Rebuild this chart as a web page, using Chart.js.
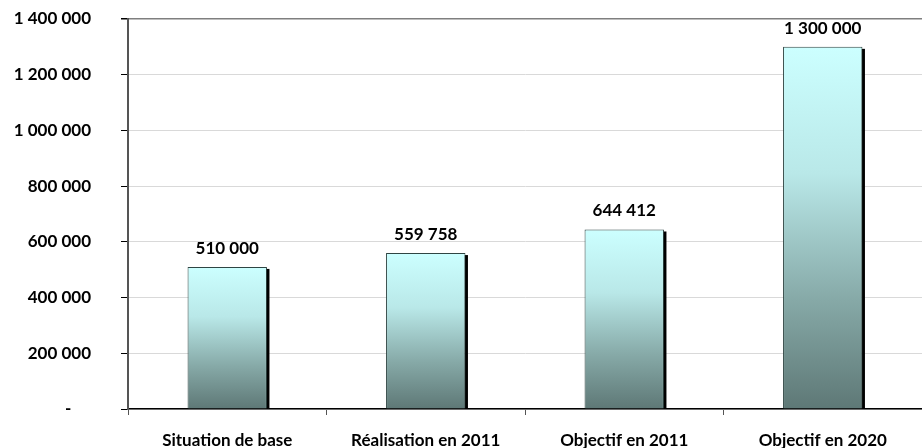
<!DOCTYPE html>
<html>
<head>
<meta charset="utf-8">
<script src="https://cdn.jsdelivr.net/npm/chart.js@4/dist/chart.umd.min.js"></script>
<style>
  html, body { margin: 0; padding: 0; background: #fff; }
  canvas { display: block; }
</style>
</head>
<body>
<canvas id="objectifs" width="922" height="448"></canvas>
<script>
const categories = ['Situation de base', 'Réalisation en 2011', 'Objectif en 2011', 'Objectif en 2020'];
const values = [510000, 559758, 644412, 1300000];
const yTicks = [0, 200000, 400000, 600000, 800000, 1000000, 1200000, 1400000];

const FONT = 'Lato, "Open Sans", sans-serif';

function fmt(v) {
  if (v === 0) return '-';
  return String(v).replace(/\B(?=(\d{3})+(?!\d))/g, ' ');
}

// vertical gradient per bar, light cyan on top to dark teal at the base
function barFill(ctx) {
  const chart = ctx.chart;
  const y = chart.scales.y;
  if (!chart.chartArea || !y || ctx.raw === undefined) return '#a7d4d4';
  const top = y.getPixelForValue(ctx.raw);
  const base = y.getPixelForValue(0);
  if (!isFinite(top) || !isFinite(base)) return '#a7d4d4';
  const g = chart.ctx.createLinearGradient(0, top, 0, base);
  g.addColorStop(0, '#ccffff');
  g.addColorStop(0.35, '#b9e8e8');
  g.addColorStop(0.7, '#86a9a7');
  g.addColorStop(1, '#5e7876');
  return g;
}

// dark drop shadow on the right of each bar
const barShadow = {
  id: 'barShadow',
  beforeDatasetsDraw(chart) {
    const c = chart.ctx;
    c.save();
    c.fillStyle = '#000';
    chart.getDatasetMeta(0).data.forEach(bar => {
      const r = bar.x + bar.width / 2;
      c.fillRect(r - 1, bar.y + 2, 3.5, bar.base - bar.y - 2);
    });
    c.restore();
  }
};

const valueLabels = {
  id: 'valueLabels',
  afterDatasetsDraw(chart) {
    const c = chart.ctx;
    c.save();
    c.font = 'bold 17px ' + FONT;
    c.fillStyle = '#000';
    c.textAlign = 'center';
    c.textBaseline = 'alphabetic';
    chart.getDatasetMeta(0).data.forEach((bar, i) => {
      c.fillText(fmt(values[i]), bar.x, bar.y - 13);
    });
    c.restore();
  }
};

new Chart(document.getElementById('objectifs'), {
  type: 'bar',
  data: {
    labels: categories,
    datasets: [{
      data: values,
      backgroundColor: barFill,
      borderColor: '#2f4543',
      borderWidth: 1,
      barPercentage: 0.8,
      categoryPercentage: 0.5
    }]
  },
  options: {
    responsive: false,
    animation: false,
    layout: { padding: { top: 19, right: 0, bottom: 0, left: 0 } },
    plugins: {
      legend: { display: false },
      tooltip: { enabled: false }
    },
    scales: {
      x: {
        grid: {
          offset: true,
          drawOnChartArea: false,
          tickLength: 6,
          tickColor: '#555'
        },
        border: { color: '#000', width: 1.5 },
        ticks: {
          color: '#000',
          padding: 15,
          font: { family: FONT, size: 17, weight: 'bold' }
        },
        afterFit(s) { s.height = 39; }
      },
      y: {
        min: 0,
        max: 1400000,
        afterBuildTicks(s) { s.ticks = yTicks.map(v => ({ value: v })); },
        grid: {
          color: ctx => ctx.tick && ctx.tick.value === 1400000 ? '#7f7f7f' : '#d9d9d9',
          lineWidth: ctx => ctx.tick && ctx.tick.value === 1400000 ? 1.5 : 1,
          tickLength: 7,
          tickColor: '#000'
        },
        border: { color: '#555', width: 2 },
        ticks: {
          color: '#000',
          padding: 30,
          font: { family: FONT, size: 17, weight: 'bold' },
          // zero shows as a dash, set a little in from the right edge
          callback: v => v === 0 ? '-\u2007\u2007' : fmt(v)
        },
        afterFit(s) {
          s.width = 128;
          // the wide label gap should not push the plot down
          s.paddingTop = 10;
          s.paddingBottom = 10;
        }
      }
    }
  },
  plugins: [barShadow, valueLabels]
});
</script>
</body>
</html>
